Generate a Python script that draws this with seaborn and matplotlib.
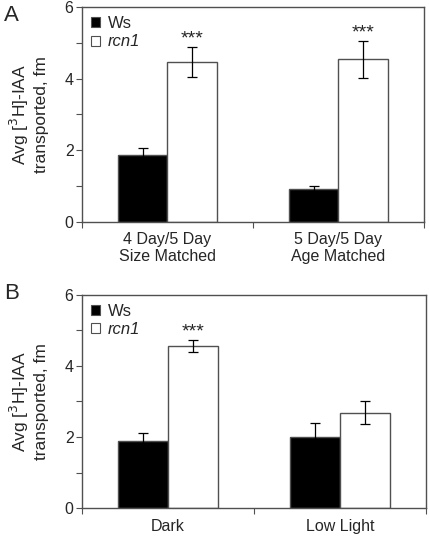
import pandas as pd
import matplotlib
matplotlib.use("Agg")
import matplotlib.pyplot as plt
import seaborn as sns

sns.set_theme(style="white")
plt.rcParams["font.family"] = ["Liberation Sans", "DejaVu Sans"]

genotypes = ["Ws", "rcn1"]

# panel A
cats_a = ["4 Day/5 Day\nSize Matched", "5 Day/5 Day\nAge Matched"]
ws_a = [1.87, 0.93]
ws_a_err = [0.18, 0.06]
rcn_a = [4.46, 4.54]
rcn_a_err = [0.42, 0.52]

# panel B
cats_b = ["Dark", "Low Light"]
ws_b = [1.90, 2.00]
ws_b_err = [0.20, 0.40]
rcn_b = [4.56, 2.68]
rcn_b_err = [0.17, 0.32]

stars_a = ["***", "***"]
stars_b = ["***", ""]

EDGE = "#505050"


def panel(ax, cats, ws, ws_err, rcn, rcn_err, stars):
    df = pd.DataFrame({
        "cat": cats + cats,
        "geno": ["Ws"] * len(cats) + ["rcn1"] * len(cats),
        "val": ws + rcn,
        "err": ws_err + rcn_err,
    })
    sns.barplot(data=df, x="cat", y="val", hue="geno", hue_order=genotypes,
                palette={"Ws": "black", "rcn1": "white"}, errorbar=None,
                width=0.58, gap=0, edgecolor=EDGE, linewidth=1.0, ax=ax,
                saturation=1)
    # patches come ordered by hue, then category
    bars = ax.patches[:len(df)]
    for i, p in enumerate(bars):
        x = p.get_x() + p.get_width() / 2
        h = p.get_height()
        e = df["err"].iloc[i]
        ax.errorbar(x, h, yerr=e, color="black", capsize=3.3, elinewidth=0.9,
                    capthick=0.9)
        if i >= len(cats) and stars[i - len(cats)]:
            ax.text(x, h + e + 0.1, stars[i - len(cats)], ha="center",
                    va="baseline", fontsize=14)
    ax.set_ylim(0, 6)
    ax.set_xlim(-0.5, len(cats) - 0.5)
    ax.set_yticks([0, 2, 4, 6])
    ax.set_yticks([1, 3, 5], minor=True)
    ax.set_xticks([0, 1])
    ax.set_xticklabels(cats, fontsize=11.5, linespacing=1.12)
    ax.set_xticks([-0.5, 0.5, 1.5], minor=True)
    ax.tick_params(axis="y", which="both", direction="out", left=True,
                   length=4, width=0.8, color=EDGE, labelsize=11.5, pad=2)
    ax.tick_params(axis="x", which="major", bottom=False, pad=1.5)
    ax.tick_params(axis="x", which="minor", bottom=True, direction="out",
                   length=4, width=0.8, color=EDGE)
    for s in ax.spines.values():
        s.set_color(EDGE)
        s.set_linewidth(1.0)
    ax.set_xlabel("")
    ax.set_ylabel("Avg [$^3$H]-IAA\ntransported, fm", fontsize=12.5,
                  linespacing=1.3, labelpad=11)
    leg = ax.legend(handles=[
        plt.Rectangle((0, 0), 1, 1, fc="black", ec=EDGE, lw=0.8),
        plt.Rectangle((0, 0), 1, 1, fc="white", ec=EDGE, lw=0.8)],
        labels=genotypes, loc="upper left", frameon=False, fontsize=12,
        handlelength=0.55, handleheight=0.55, handletextpad=0.45,
        borderaxespad=0.15, labelspacing=0.2)
    leg.get_texts()[1].set_style("italic")


fig = plt.figure(figsize=(4.29, 5.36), dpi=100)
ax_a = fig.add_axes([0.191, 0.586, 0.797, 0.401])
ax_b = fig.add_axes([0.191, 0.052, 0.802, 0.398])
panel(ax_a, cats_a, ws_a, ws_a_err, rcn_a, rcn_a_err, stars_a)
panel(ax_b, cats_b, ws_b, ws_b_err, rcn_b, rcn_b_err, stars_b)
fig.text(0.027, 0.99, "A", fontsize=16, ha="center", va="top")
fig.text(0.027, 0.472, "B", fontsize=16, ha="center", va="top")

fig.savefig("out.png", dpi=100)
